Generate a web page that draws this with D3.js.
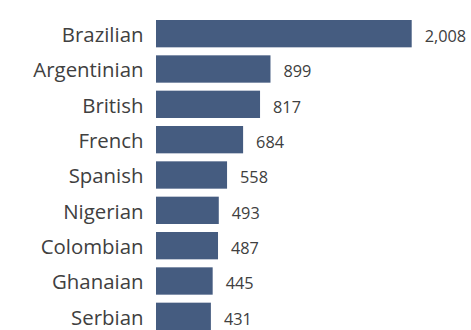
<!DOCTYPE html>
<html>
<head>
<meta charset="utf-8">
<script src="https://cdn.jsdelivr.net/npm/d3@7"></script>
<style>
  html, body { margin: 0; padding: 0; background: #ffffff; }
  svg { display: block; }
</style>
</head>
<body>
<svg id="chart" width="471" height="330"></svg>
<script>
const categories = ["Brazilian", "Argentinian", "British", "French", "Spanish", "Nigerian", "Colombian", "Ghanaian", "Serbian"];
const values = [2008, 899, 817, 684, 558, 493, 487, 445, 431];
const valueLabels = ["2,008", "899", "817", "684", "558", "493", "487", "445", "431"];

const svg = d3.select("#chart");
const barColor = "#455c80";
const textColor = "#404040";
const fontFamily = "'Open Sans', 'Noto Sans', sans-serif";

const y = d3.scaleBand()
  .domain(categories)
  .range([20, 330])
  .paddingInner(0.2264)
  .paddingOuter(0);

const x = d3.scaleLinear()
  .domain([0, d3.max(values)])
  .range([156, 411.7]);

const data = categories.map((c, i) => ({ c, v: values[i], label: valueLabels[i] }));

svg.selectAll("rect.bar")
  .data(data)
  .join("rect")
  .attr("class", "bar")
  .attr("x", x(0))
  .attr("y", d => y(d.c))
  .attr("width", d => x(d.v) - x(0))
  .attr("height", y.bandwidth())
  .attr("fill", barColor);

const yAxis = d3.axisLeft(y).tickSize(0).tickPadding(12.5);
const gy = svg.append("g")
  .attr("transform", `translate(${x(0)},0)`)
  .call(yAxis);
gy.select(".domain").remove();
gy.selectAll("text")
  .attr("fill", textColor)
  .attr("font-family", fontFamily)
  .attr("font-size", 20.4)
  .attr("dy", null)
  .attr("y", 8.3);

svg.selectAll("text.val")
  .data(data)
  .join("text")
  .attr("class", "val")
  .attr("x", d => x(d.v) + 13)
  .attr("y", d => y(d.c) + y.bandwidth() / 2 + 8.3)
  .attr("fill", textColor)
  .attr("font-family", fontFamily)
  .attr("font-size", 16.3)
  .text(d => d.label);
</script>
</body>
</html>
